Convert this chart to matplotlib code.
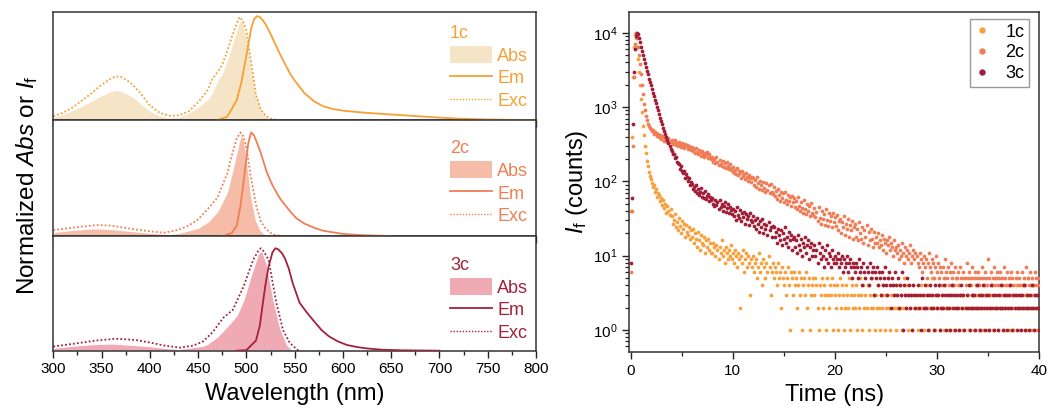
import numpy as np
import matplotlib
matplotlib.use("Agg")
import matplotlib.pyplot as plt
from matplotlib.patches import Patch
from matplotlib.lines import Line2D
from matplotlib.ticker import MultipleLocator, LogLocator, NullFormatter

plt.rcParams['font.family'] = ['Liberation Sans', 'DejaVu Sans']
plt.rcParams['mathtext.fontset'] = 'custom'
plt.rcParams['mathtext.rm'] = 'Liberation Sans'
plt.rcParams['mathtext.it'] = 'Liberation Sans:italic'
plt.rcParams['mathtext.bf'] = 'Liberation Sans:bold'

# ---------------- spectra data (normalized) ----------------
compounds = ["1c", "2c", "3c"]

abs1_nm = [300,310,320,330,340,350,360,365,370,380,390,400,410,420,430,440,450,460,465,470,475,480,485,490,493,496,500,505,510,515,520,525,530]
abs1 = [0.03,0.06,0.10,0.14,0.19,0.24,0.28,0.29,0.285,0.24,0.17,0.09,0.045,0.026,0.03,0.07,0.13,0.2,0.28,0.38,0.46,0.58,0.73,0.88,0.96,0.95,0.82,0.52,0.26,0.11,0.04,0.01,0.0]
exc1_nm = [300,310,320,330,340,350,360,365,370,380,390,400,410,420,430,440,450,460,465,470,475,480,485,490,493,496,500,505,510,515,520,525,530,535]
exc1 = [0.035,0.07,0.12,0.19,0.26,0.34,0.40,0.42,0.415,0.36,0.26,0.14,0.07,0.04,0.045,0.08,0.17,0.29,0.40,0.46,0.53,0.66,0.80,0.93,0.99,0.96,0.86,0.55,0.24,0.10,0.04,0.015,0.005,0.0]
em1_nm = [470,480,490,495,500,505,508,511,514,517,520,525,530,535,540,545,550,555,560,570,580,590,600,620,650,680,700,720,750,780,800]
em1 = [0.0,0.03,0.19,0.37,0.62,0.88,0.97,1.0,0.99,0.96,0.92,0.83,0.73,0.63,0.54,0.45,0.38,0.32,0.26,0.18,0.13,0.105,0.09,0.072,0.053,0.035,0.023,0.013,0.005,0.001,0.0]

abs2_nm = [300,320,340,350,360,380,400,420,430,440,450,460,470,480,485,490,494,497,500,505,510,515,520,525]
abs2 = [0.04,0.06,0.074,0.074,0.068,0.05,0.032,0.02,0.03,0.055,0.08,0.14,0.24,0.43,0.62,0.82,0.98,0.95,0.78,0.38,0.15,0.05,0.015,0.0]
exc2_nm = [300,320,345,360,380,400,415,430,440,450,460,470,480,485,490,494,497,500,505,510,515,520,525,530,538]
exc2 = [0.058,0.08,0.106,0.1,0.07,0.045,0.032,0.06,0.1,0.16,0.26,0.37,0.6,0.78,0.94,1.0,0.96,0.85,0.55,0.3,0.14,0.07,0.03,0.01,0.0]
em2_nm = [476,485,490,494,497,500,502,505,508,511,515,521,526,530,535,540,546,552,560,570,580,600,620,650]
em2 = [0.0,0.03,0.1,0.3,0.52,0.75,0.9,1.0,0.97,0.9,0.8,0.62,0.51,0.44,0.36,0.3,0.23,0.17,0.12,0.08,0.05,0.02,0.008,0.0]

abs3_nm = [300,320,340,360,380,400,420,430,440,455,460,470,478,483,490,497,504,512,516,521,528,535,542,548]
abs3 = [0.03,0.05,0.065,0.072,0.06,0.045,0.025,0.02,0.03,0.05,0.07,0.14,0.22,0.27,0.35,0.5,0.72,0.95,0.98,0.85,0.5,0.22,0.06,0.0]
exc3_nm = [300,315,330,345,365,385,400,415,431,445,455,465,476,486,497,507,512,515,518,523,531,538,545,554]
exc3 = [0.04,0.06,0.08,0.1,0.117,0.105,0.08,0.05,0.03,0.05,0.09,0.18,0.32,0.40,0.625,0.886,0.97,1.0,0.97,0.886,0.47,0.2,0.075,0.0]
em3_nm = [490,500,510,514,517,520,523,527,530,533,537,540,544,548,555,562,569,578,586,595,604,615,624,640,660,700]
em3 = [0.0,0.005,0.1,0.25,0.46,0.66,0.82,0.96,1.0,0.99,0.95,0.9,0.8,0.66,0.47,0.38,0.30,0.2,0.137,0.09,0.056,0.035,0.023,0.01,0.004,0.0]

# ---------------- decay data (counts, 0.1 ns channels from t = 0) ----------------
decay_step_ns = 0.1
counts_1c = [
    40, 400, 2500, 6500, 9600, 8500, 6500, 4500, 3000, 2000, 1300, 850, 560, 420, 300, 240, 190, 160, 135, 118,
    108, 95, 84, 88, 72, 78, 62, 70, 66, 55, 60, 48, 56, 44, 50, 38, 47, 40, 35, 42,
    34, 27, 30, 36, 24, 28, 22, 32, 25, 20, 29, 23, 27, 18, 26, 21, 19, 24, 17, 22,
    18, 23, 15, 20, 17, 13, 21, 16, 12, 19, 15, 14, 18, 11, 16, 13, 17, 12, 15, 11,
    11, 15, 13, 10, 14, 12, 9, 13, 11, 16, 10, 12, 8, 13, 11, 9, 12, 10, 14, 9,
    11, 8, 12, 10, 7, 11, 9, 2, 10, 8, 12, 6, 9, 11, 7, 10, 8, 3, 9, 7,
    10, 6, 8, 9, 5, 7, 11, 6, 8, 4, 9, 7, 5, 8, 6, 10, 7, 3, 6, 8,
    5, 7, 6, 4, 8, 5, 6, 2, 7, 5, 4, 6, 3, 5, 7, 4, 1, 6, 5, 3,
    6, 4, 5, 2, 4, 6, 3, 5, 1, 4, 5, 3, 6, 2, 4, 5, 1, 3, 4, 5,
    3, 5, 4, 2, 1, 4, 3, 5, 2, 4, 3, 1, 5, 3, 2, 4, 3, 5, 1, 4,
    3, 2, 4, 1, 3, 5, 2, 4, 3, 1, 2, 4, 3, 2, 5, 1, 3, 4, 2, 3,
    2, 4, 1, 3, 2, 5, 3, 1, 4, 2, 3, 2, 4, 1, 3, 2, 5, 2, 3, 1,
    3, 2, 4, 2, 1, 3, 2, 4, 3, 1, 2, 3, 5, 2, 1, 3, 4, 2, 3, 2,
    1, 3, 2, 4, 2, 3, 1, 2, 5, 3, 2, 4, 1, 3, 2, 3, 1, 4, 2, 3,
    2, 1, 3, 2, 4, 2, 3, 1, 2, 3, 4, 2, 1, 3, 2, 5, 2, 3, 1, 2,
    3, 2, 4, 1, 2, 3, 2, 1, 4, 2, 3, 2, 1, 3, 2, 4, 3, 1, 2, 3,
    2, 4, 1, 3, 2, 3, 1, 2, 5, 2, 3, 1, 2, 4, 2, 3, 1, 2, 3, 2,
    4, 1, 2, 3, 2, 1, 3, 4, 2, 3, 1, 2, 3, 2, 4, 1, 3, 2, 5, 2,
    1, 3, 2, 4, 2, 3, 1, 2, 3, 2, 4, 1, 2, 3, 2, 1, 3, 4, 2, 3,
    2, 1, 3, 2, 4, 2, 3, 1, 2, 5, 2, 3, 1, 2, 4, 2, 3, 1, 2, 3,
    2]
counts_2c = [
    6, 40, 300, 2500, 7000, 9800, 8500, 6500, 5000, 3800, 2800, 2000, 1500, 1100, 900, 750, 670, 600, 560, 530,
    512, 470, 490, 430, 465, 448, 405, 440, 390, 420, 372, 410, 395, 352, 388, 370, 340, 378, 335, 350,
    362, 320, 338, 355, 305, 330, 298, 342, 312, 290, 326, 300, 282, 318, 295, 305, 270, 298, 280, 262,
    288, 255, 270, 240, 282, 252, 232, 265, 245, 220, 258, 236, 215, 242, 228, 250, 208, 230, 212, 198,
    215, 185, 198, 176, 210, 180, 168, 195, 172, 160, 188, 158, 175, 150, 182, 162, 145, 170, 152, 140,
    155, 130, 142, 125, 150, 120, 136, 128, 112, 140, 118, 124, 108, 130, 115, 102, 122, 110, 98, 116,
    112, 90, 104, 84, 116, 95, 80, 101, 88, 76, 98, 82, 72, 94, 77, 88, 69, 92, 73, 68,
    84, 63, 74, 58, 79, 66, 55, 72, 59, 69, 52, 71, 57, 49, 66, 54, 62, 47, 64, 52,
    60, 45, 54, 42, 61, 47, 40, 53, 44, 37, 56, 42, 36, 49, 40, 46, 34, 51, 38, 35,
    44, 33, 39, 29, 45, 32, 27, 40, 31, 36, 26, 42, 30, 25, 38, 29, 34, 24, 37, 28,
    33, 25, 35, 22, 29, 31, 20, 28, 24, 34, 19, 27, 23, 31, 18, 26, 22, 29, 17, 24,
    27, 18, 23, 16, 28, 20, 17, 24, 15, 22, 18, 26, 14, 21, 16, 23, 17, 13, 21, 15,
    18, 15, 20, 13, 16, 14, 19, 12, 17, 15, 11, 16, 14, 18, 12, 15, 13, 10, 16, 12,
    13, 11, 14, 9, 12, 10, 15, 11, 8, 13, 10, 12, 9, 11, 14, 8, 10, 12, 9, 11,
    10, 8, 7, 11, 9, 6, 8, 10, 7, 9, 5, 8, 11, 7, 6, 9, 8, 5, 7, 10,
    6, 8, 5, 7, 6, 4, 7, 5, 9, 6, 5, 7, 4, 6, 8, 5, 6, 4, 7, 5,
    5, 6, 4, 7, 5, 3, 6, 5, 4, 8, 5, 6, 4, 5, 7, 3, 5, 6, 4, 5,
    6, 4, 5, 3, 7, 5, 4, 6, 5, 4, 9, 5, 3, 6, 4, 5, 7, 4, 5, 6,
    4, 5, 6, 3, 5, 4, 7, 5, 4, 6, 3, 5, 4, 6, 5, 4, 3, 5, 6, 4,
    5, 4, 3, 6, 4, 5, 4, 7, 3, 5, 4, 6, 4, 5, 3, 4, 6, 5, 4, 5,
    4]
counts_3c = [
    8, 60, 600, 3000, 6000, 9000, 9900, 9500, 8500, 7400, 6400, 5600, 5000, 4400, 3900, 3500, 3100, 2750, 2400, 2200,
    2000, 1750, 1550, 1400, 1250, 1120, 1000, 900, 800, 720, 650, 590, 530, 480, 430, 395, 360, 330, 300, 275,
    258, 236, 230, 205, 210, 182, 176, 170, 148, 162, 140, 128, 138, 112, 124, 115, 100, 112, 90, 99,
    92, 80, 85, 74, 88, 70, 79, 66, 72, 82, 62, 70, 60, 74, 58, 64, 68, 54, 62, 57,
    60, 50, 46, 57, 48, 53, 42, 56, 45, 50, 40, 47, 52, 39, 44, 49, 37, 45, 41, 36,
    43, 34, 40, 30, 45, 35, 32, 41, 29, 37, 33, 39, 27, 36, 31, 34, 26, 38, 30, 28,
    34, 25, 30, 23, 32, 27, 21, 29, 24, 31, 20, 27, 23, 26, 19, 28, 22, 24, 18, 25,
    24, 18, 21, 15, 23, 19, 16, 22, 14, 20, 17, 24, 15, 18, 13, 21, 16, 19, 12, 17,
    18, 13, 16, 11, 19, 14, 12, 17, 10, 15, 13, 18, 11, 14, 16, 9, 13, 15, 10, 12,
    14, 10, 12, 8, 15, 11, 9, 13, 10, 7, 12, 9, 14, 8, 11, 10, 7, 12, 9, 8,
    10, 8, 9, 11, 7, 9, 8, 10, 6, 9, 7, 8, 10, 6, 8, 9, 7, 5, 8, 7,
    6, 8, 7, 5, 9, 6, 7, 4, 8, 6, 5, 7, 6, 4, 8, 5, 6, 7, 3, 6,
    5, 7, 4, 6, 5, 3, 6, 4, 5, 7, 4, 3, 5, 6, 4, 2, 5, 4, 3, 6,
    4, 3, 5, 2, 4, 3, 6, 1, 4, 3, 2, 5, 3, 4, 2, 3, 1, 4, 3, 2,
    3, 4, 2, 3, 1, 5, 3, 2, 4, 2, 3, 1, 3, 4, 2, 3, 2, 1, 4, 3,
    2, 3, 4, 1, 2, 3, 2, 4, 3, 1, 2, 3, 2, 1, 3, 4, 2, 3, 1, 2,
    3, 2, 1, 3, 4, 2, 3, 1, 2, 3, 2, 4, 1, 2, 3, 2, 3, 1, 2, 4,
    2, 3, 1, 2, 3, 4, 2, 1, 3, 2, 3, 1, 2, 4, 2, 3, 1, 2, 3, 2,
    1, 3, 2, 4, 2, 1, 3, 2, 3, 1, 2, 3, 4, 2, 1, 3, 2, 3, 1, 2,
    3, 2, 1, 3, 2, 4, 1, 2, 3, 2, 1, 3, 2, 4, 2, 1, 3, 2, 3, 2,
    1]

# ---------------- styling ----------------
line_colors = ["#F7A035", "#F07F55", "#A2223C"]
fill_colors = ["#F5E4C5", "#F5BCA8", "#F0AAB4"]
dot_colors = ["#F8A03C", "#F07D55", "#A01E37"]

spectra = [
    (abs1_nm, abs1, em1_nm, em1, exc1_nm, exc1),
    (abs2_nm, abs2, em2_nm, em2, exc2_nm, exc2),
    (abs3_nm, abs3, em3_nm, em3, exc3_nm, exc3),
]
ytops = [1.044, 1.12, 1.12]
leg_y = [0.877, 0.828, 0.819]

fig = plt.figure(figsize=(10.49, 4.17), dpi=100)

# left panels
L, R, B, T = 53.3/1049, 536/1049, 1 - 350.7/417, 1 - 11.5/417
gs = fig.add_gridspec(3, 1, left=L, right=R, bottom=B, top=T, hspace=0,
                      height_ratios=[108.5, 116, 114.7])
axes = [fig.add_subplot(gs[i]) for i in range(3)]
for i, ax in enumerate(axes):
    a_nm, a, e_nm, e, x_nm, x = spectra[i]
    ax.fill_between(a_nm, a, 0, facecolor=fill_colors[i], edgecolor='white', lw=1.0, zorder=1)
    ax.plot(e_nm, e, color=line_colors[i], lw=1.3, zorder=3)
    ax.plot(x_nm, x, color=line_colors[i], lw=1.3, ls=(0, (1, 1.2)), zorder=2)
    ax.set_xlim(300, 800)
    ax.set_ylim(0, ytops[i])
    ax.set_yticks([])
    ax.xaxis.set_major_locator(MultipleLocator(50))
    ax.xaxis.set_minor_locator(MultipleLocator(25))
    ax.tick_params(axis='x', which='major', direction='out', length=5, width=1.0,
                   labelsize=11, pad=3, color='#222222')
    ax.tick_params(axis='x', which='minor', direction='out', length=3, width=1.0, color='#222222')
    for sp in ax.spines.values():
        sp.set_linewidth(1.1)
        sp.set_color('#333333')
    if i < 2:
        ax.tick_params(axis='x', labelbottom=False)
    handles = [Patch(facecolor=fill_colors[i], edgecolor='none'),
               Line2D([], [], color=line_colors[i], lw=1.3),
               Line2D([], [], color=line_colors[i], lw=1.0, ls=(0, (1, 1.2)))]
    leg = ax.legend(handles, ["Abs", "Em", "Exc"], title=compounds[i],
                    loc='upper left', bbox_to_anchor=(0.822, leg_y[i]),
                    frameon=False, fontsize=13, title_fontsize=13,
                    handlelength=2.3, handleheight=1.1, handletextpad=0.3,
                    labelspacing=0.22, borderpad=0, borderaxespad=0,
                    alignment='left')
    leg.get_title().set_color(line_colors[i])
    for t in leg.get_texts():
        t.set_color(line_colors[i])

axes[2].set_xlabel("Wavelength (nm)", fontsize=17, labelpad=5)
fig.text(0.026, (B + T) / 2 - 0.01, r"Normalized $\mathit{Abs}$ or $\mathit{I}_\mathrm{f}$",
         rotation=90, va='center', ha='center', fontsize=17.5)

# right panel
axr = fig.add_axes([629.3/1049, 1 - 351.7/417, (1039 - 629.3)/1049, (351.7 - 11.7)/417])
series = [counts_1c, counts_2c, counts_3c]
for i, c in enumerate(series):
    t = np.arange(len(c)) * decay_step_ns
    axr.plot(t, c, ls='none', marker='o', ms=2.7, mew=0, color=dot_colors[i],
             label=compounds[i], zorder=2 + i)
axr.set_yscale('log')
axr.set_ylim(0.51, 1.92e4)
axr.set_xlim(-0.14, 40)
axr.xaxis.set_major_locator(MultipleLocator(10))
axr.xaxis.set_minor_locator(MultipleLocator(5))
axr.yaxis.set_major_locator(LogLocator(base=10, numticks=10))
axr.yaxis.set_minor_locator(LogLocator(base=10, subs=np.arange(2, 10), numticks=10))
axr.yaxis.set_minor_formatter(NullFormatter())
axr.tick_params(which='major', direction='out', length=5, width=1.0, labelsize=11, color='#222222')
axr.tick_params(which='minor', direction='out', length=3, width=0.9, color='#222222')
for sp in axr.spines.values():
    sp.set_linewidth(1.1)
    sp.set_color('#333333')
axr.set_xlabel("Time (ns)", fontsize=17, labelpad=5)
axr.set_ylabel(r"$\mathit{I}_\mathrm{f}$ (counts)", fontsize=17, labelpad=2)
lg = axr.legend(loc='upper right', bbox_to_anchor=(0.9756, 0.9785), borderaxespad=0,
                fontsize=13, markerscale=1.7, handlelength=0.8, handletextpad=0.9,
                labelspacing=0.22, borderpad=0.25, fancybox=False, framealpha=1)
lg.get_frame().set_edgecolor('#999999')
lg.get_frame().set_linewidth(1.0)

fig.savefig("out.png", dpi=100)
